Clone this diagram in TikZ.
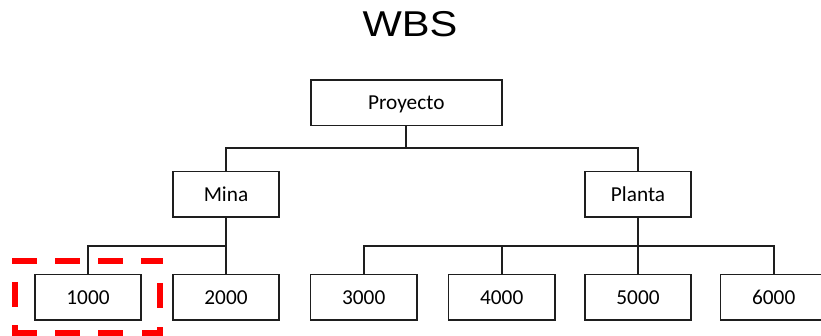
\documentclass[tikz,border=0pt]{standalone}
\usepackage{fontspec}
\setmainfont{Carlito}
\newfontfamily\titlefont{Liberation Sans}
\definecolor{ink}{HTML}{1E1E1E}
\tikzset{
  wbsbox/.style={draw=ink, line width=1.8pt, fill=white, inner sep=0pt,
    minimum height=45.5pt, text height=13.7pt, text depth=0pt,
    font=\fontsize{21.3pt}{25pt}\selectfont},
  leafbox/.style={wbsbox, minimum width=106.5pt},
  midbox/.style={wbsbox, minimum width=106.5pt},
  link/.style={draw=ink, line width=1.8pt},
  focusseg/.style={draw=red, line width=6pt, line join=miter},
  focusdash/.style={focusseg, dash pattern=on 24.5pt off 18.5pt}
}
\begin{document}
\begin{tikzpicture}[x=1pt,y=-1pt]
  \useasboundingbox (0,0) rectangle (821,336);
  \clip (0,0) rectangle (821,336);

  % title
  \node[anchor=base, inner sep=0pt, font=\titlefont\fontsize{35.9pt}{40pt}\selectfont]
    (title) at (410,36.7) {\scalebox{1.16}[1]{WBS}};

  % level 0
  \node[wbsbox, minimum width=191pt] (proy) at (406.3,102.7) {Proyecto};

  % level 1
  \node[midbox] (mina)   at (226,194.3) {Mina};
  \node[midbox] (planta) at (638,194.3) {Planta};

  % level 2
  \node[leafbox] (n1000) at (88,297.3)    {1000};
  \node[leafbox] (n2000) at (226,297.3)   {2000};
  \node[leafbox] (n3000) at (363.7,297.3) {3000};
  \node[leafbox] (n4000) at (501.7,297.3) {4000};
  \node[leafbox] (n5000) at (638,297.3)   {5000};
  \node[leafbox] (n6000) at (773.7,297.3) {6000};

  % bus junctions
  \coordinate (b1) at (406.3,148.3);
  \coordinate (b2) at (226,246);
  \coordinate (b3) at (638,246);

  % connectors
  \draw[link] (proy.south) -- (b1) -| (mina.north);
  \draw[link] (b1) -| (planta.north);

  \draw[link] (mina.south) -- (b2) -| (n1000.north);
  \draw[link] (b2) -- (n2000.north);

  \draw[link] (planta.south) -- (b3) -| (n3000.north);
  \draw[link] (b3) -| (n6000.north);
  \draw[link] (b3) -- (n5000.north);
  \draw[link] (n4000.north) -- (n4000.north |- b3);

  % dashed highlight around work package 1000
  \draw[focusdash] (12,261.3) -- (163,261.3);
  \draw[focusdash] (55,332.5) -- (123,332.5);
  \draw[focusseg] (15,325) -- (15,332.5) -- (37,332.5);
  \draw[focusseg] (142,332.5) -- (160,332.5) -- (160,327);
  \draw[focusseg] (15,282) -- (15,307);
  \draw[focusseg] (160,283) -- (160,308.5);
\end{tikzpicture}
\end{document}
